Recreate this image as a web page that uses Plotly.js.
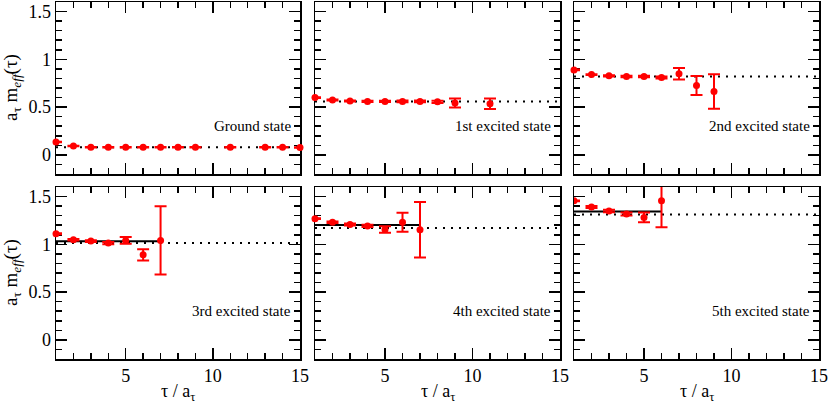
<!DOCTYPE html>
<html>
<head>
<meta charset="utf-8">
<script src="https://cdn.plot.ly/plotly-3.0.1.min.js"></script>
<style>html,body{margin:0;padding:0;background:#fff}#chart{width:830px;height:406px}</style>
</head>
<body>
<div id="chart"></div>
<script>
// ---- data ----
const stateLabels = ["Ground state", "1st excited state", "2nd excited state",
                     "3rd excited state", "4th excited state", "5th excited state"];

const tau0 = [1, 2, 3, 4, 5, 6, 7, 8, 9, 11, 13, 14, 15];
const mass0 = [0.135, 0.093, 0.080, 0.080, 0.080, 0.080, 0.080, 0.080, 0.080, 0.080, 0.080, 0.080, 0.078];
const err0 = [0.003, 0.003, 0.003, 0.003, 0.003, 0.003, 0.003, 0.003, 0.003, 0.003, 0.003, 0.003, 0.003];

const tau1 = [1, 2, 3, 4, 5, 6, 7, 8, 9, 11];
const mass1 = [0.600, 0.575, 0.564, 0.560, 0.560, 0.560, 0.560, 0.555, 0.543, 0.536];
const err1 = [0.004, 0.005, 0.006, 0.006, 0.007, 0.008, 0.010, 0.012, 0.048, 0.055];

const tau2 = [1, 2, 3, 4, 5, 6, 7, 8, 9];
const mass2 = [0.889, 0.840, 0.827, 0.820, 0.820, 0.810, 0.848, 0.726, 0.664];
const err2 = [0.004, 0.005, 0.006, 0.007, 0.008, 0.010, 0.060, 0.100, 0.180];

const tau3 = [1, 2, 3, 4, 5, 6, 7];
const mass3 = [1.110, 1.049, 1.034, 1.013, 1.041, 0.890, 1.041];
const err3 = [0.005, 0.008, 0.010, 0.012, 0.035, 0.058, 0.357];

const tau4 = [1, 2, 3, 4, 5, 6, 7];
const mass4 = [1.269, 1.231, 1.207, 1.193, 1.155, 1.231, 1.152];
const err4 = [0.005, 0.008, 0.010, 0.012, 0.035, 0.100, 0.290];

const tau5 = [1, 2, 3, 4, 5, 6];
const mass5 = [1.455, 1.390, 1.349, 1.317, 1.282, 1.455];
const err5 = [0.005, 0.010, 0.012, 0.016, 0.050, 0.276];

// dotted plateau levels (full range) and solid fit levels with fit windows
const plateauLevel = [0.080, 0.560, 0.820, 1.013, 1.172, 1.313];
const fitLevel = [null, null, null, 1.031, 1.203, 1.344];
const fitStart = [null, null, null, 1, 1, 1];
const fitEnd = [null, null, null, 7, 7, 6];

const tauRange = [1, 15];
const massRange = [-0.2, 1.6];

const taus = [tau0, tau1, tau2, tau3, tau4, tau5];
const masses = [mass0, mass1, mass2, mass3, mass4, mass5];
const errs = [err0, err1, err2, err3, err4, err5];

// ---- layout geometry (pixels) ----
const W = 830, H = 406;
const colX = [[56, 300], [315, 560], [574, 819]];
const rowY = [[2, 174], [187, 359]];
const FONT = "Liberation Serif";

const traces = [];
const layout = {
  width: W, height: H,
  margin: {l: 0, r: 0, t: 0, b: 0},
  paper_bgcolor: "#fff", plot_bgcolor: "#fff",
  showlegend: false,
  font: {family: FONT, color: "#000", size: 17},
  annotations: []
};

for (let i = 0; i < 6; i++) {
  const row = i < 3 ? 0 : 1, col = i % 3;
  const xn = i === 0 ? "x" : "x" + (i + 1);
  const yn = i === 0 ? "y" : "y" + (i + 1);
  const xk = i === 0 ? "xaxis" : "xaxis" + (i + 1);
  const yk = i === 0 ? "yaxis" : "yaxis" + (i + 1);
  const common = {
    showline: true, mirror: "ticks", linecolor: "#000", linewidth: 1.5,
    ticks: "inside", ticklen: 11, tickwidth: 1.5, tickcolor: "#000",
    showgrid: false, zeroline: false, fixedrange: true,
    layer: "below traces",
    tickfont: {family: FONT, size: 18, color: "#000"}
  };
  layout[xk] = Object.assign({}, common, {
    domain: [colX[col][0] / W, colX[col][1] / W],
    anchor: yn, range: tauRange, tick0: 0, dtick: 5,
    showticklabels: row === 1,
    minor: {dtick: 1, tick0: 0, ticks: "inside", ticklen: 6, tickwidth: 1.5, tickcolor: "#000", showgrid: false}
  });
  layout[yk] = Object.assign({}, common, {
    domain: [1 - rowY[row][1] / H, 1 - rowY[row][0] / H],
    anchor: xn, range: massRange, tick0: 0, dtick: 0.5,
    showticklabels: col === 0,
    minor: {dtick: 0.1, tick0: 0, ticks: "inside", ticklen: 6, tickwidth: 1.5, tickcolor: "#000", showgrid: false}
  });

  traces.push({
    x: tauRange, y: [plateauLevel[i], plateauLevel[i]], xaxis: xn, yaxis: yn,
    mode: "lines", line: {color: "#000", width: 2, dash: "2px,6px"}, hoverinfo: "skip"
  });
  if (fitLevel[i] !== null) {
    traces.push({
      x: [fitStart[i], fitEnd[i]], y: [fitLevel[i], fitLevel[i]], xaxis: xn, yaxis: yn,
      mode: "lines", line: {color: "#000", width: 2}, hoverinfo: "skip"
    });
  }
  traces.push({
    x: taus[i], y: masses[i], xaxis: xn, yaxis: yn,
    mode: "markers", cliponaxis: i === 5,
    marker: {color: "#ff0000", size: 7, symbol: "circle"},
    error_y: {type: "data", array: errs[i], visible: true, color: "#ff0000", thickness: 2, width: 6}
  });

  layout.annotations.push({
    xref: xn, yref: yn, x: tauRange[1], y: 0.3, xanchor: "right", yanchor: "middle",
    xshift: -7, showarrow: false, text: stateLabels[i],
    font: {family: FONT, size: 15, color: "#000"}
  });

  if (col === 0) {
    layout.annotations.push({
      xref: "paper", yref: "paper", x: 12 / W, y: 1 - (rowY[row][0] + rowY[row][1]) / 2 / H,
      xanchor: "center", yanchor: "middle", textangle: -90, showarrow: false,
      text: "a<sub>τ</sub> m<sub><i>eff</i></sub>(τ)",
      font: {family: FONT, size: 19, color: "#000"}
    });
  }
  if (row === 1) {
    layout.annotations.push({
      xref: "paper", yref: "paper", x: (colX[col][0] + colX[col][1]) / 2 / W, y: 1 - 392 / H,
      xanchor: "center", yanchor: "middle", showarrow: false,
      text: "τ / a<sub>τ</sub>",
      font: {family: FONT, size: 18, color: "#000"}
    });
  }
}

Plotly.newPlot("chart", traces, layout, {staticPlot: true, displayModeBar: false});
</script>
</body>
</html>
